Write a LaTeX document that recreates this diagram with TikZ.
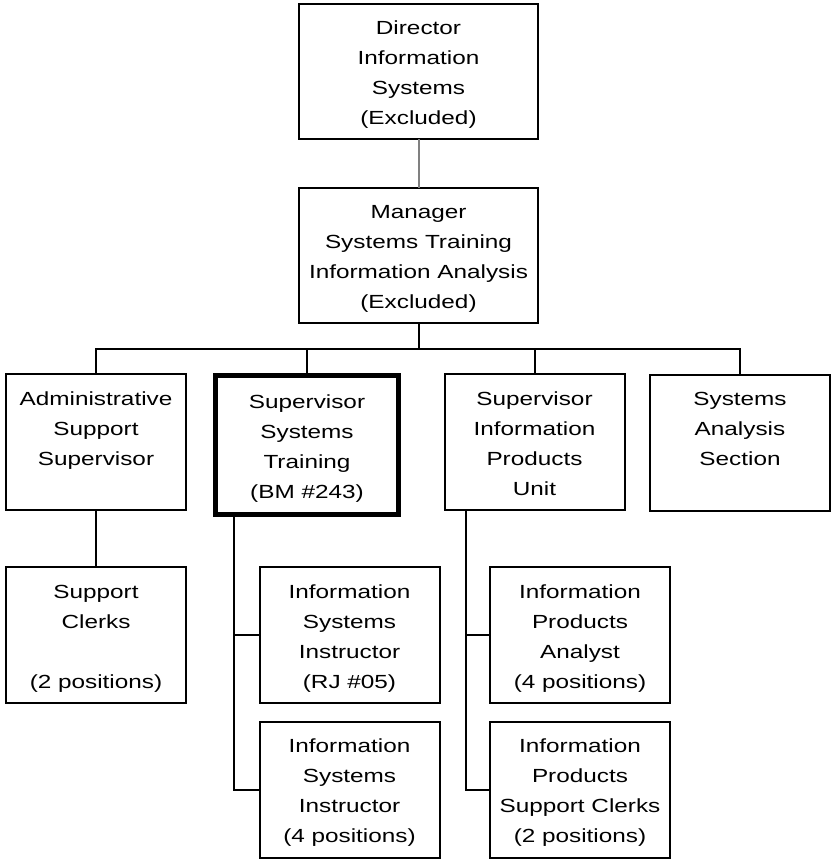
\documentclass[tikz,border=0pt]{standalone}
\usepackage{fontspec}
\setmainfont[FakeStretch=1.28]{Liberation Sans}
\usepackage{tikz}
\usetikzlibrary{positioning}
\newcommand{\orgtext}[2][176pt]{\parbox[c][116pt][t]{#1}{\centering\strut#2}}

\begin{document}
\begin{tikzpicture}[x=1pt, y=-1pt,
  unit/.style={draw, line width=2pt, inner xsep=0pt, inner ysep=10pt, outer sep=0pt, minimum width=180pt, font=\fontsize{19}{30}\selectfont},
  head/.style={unit, minimum width=239pt, inner ysep=9.5pt},
  ours/.style={unit, line width=5pt, minimum width=183pt, inner ysep=11.5pt},
  link/.style={line width=2pt}]
\useasboundingbox (0,0) rectangle (832,860);
\node[head] (dir)  at (418.5,71.5)  {\orgtext[235pt]{Director\\Information\\Systems\\(Excluded)}};
\node[head] (mgr)  at (418.5,255.5) {\orgtext[235pt]{Manager\\Systems Training\\Information Analysis\\(Excluded)}};
\node[unit] (adm)  at (96,442)    {\orgtext{Administrative\\Support\\Supervisor}};
\node[ours] (sst)  at (307,445)   {\orgtext{Supervisor\\Systems\\Training\\(BM \#243)}};
\node[unit] (sip)  at (534.5,442) {\orgtext{Supervisor\\Information\\Products\\Unit}};
\node[unit] (sas)  at (740,442.5) {\orgtext{Systems\\Analysis\\Section}};
\node[unit] (clk)  at (96,635)    {\orgtext{Support\\Clerks\\\mbox{}\\(2 positions)}};
\node[unit] (ins1) at (349.5,635)   {\orgtext{Information\\Systems\\Instructor\\(RJ \#05)}};
\node[unit] (ins2) at (349.5,789.5) {\orgtext{Information\\Systems\\Instructor\\(4 positions)}};
\node[unit] (ana)  at (580,635)     {\orgtext{Information\\Products\\Analyst\\(4 positions)}};
\node[unit] (ipc)  at (580,789.5)   {\orgtext{Information\\Products\\Support Clerks\\(2 positions)}};
\coordinate (bus) at (418.5,349);
\coordinate (sstdrop) at ([xshift=18.5pt]sst.south west);
\coordinate (sipdrop) at ([xshift=21pt]sip.south west);
\draw[link, black!50] (dir) -- (mgr);
\draw[link] (mgr) -- (bus);
\draw[link] (adm) |- (bus) -| (sas);
\draw[link] (sst) -- (sst |- bus); \draw[link] (sip) -- (sip |- bus);
\draw[link] (adm) -- (clk);
\draw[link] (sstdrop) |- (ins2); \draw[link] (ins1) -- (ins1 -| sstdrop);
\draw[link] (sipdrop) |- (ipc); \draw[link] (ana) -- (ana -| sipdrop);
\end{tikzpicture}
\end{document}
